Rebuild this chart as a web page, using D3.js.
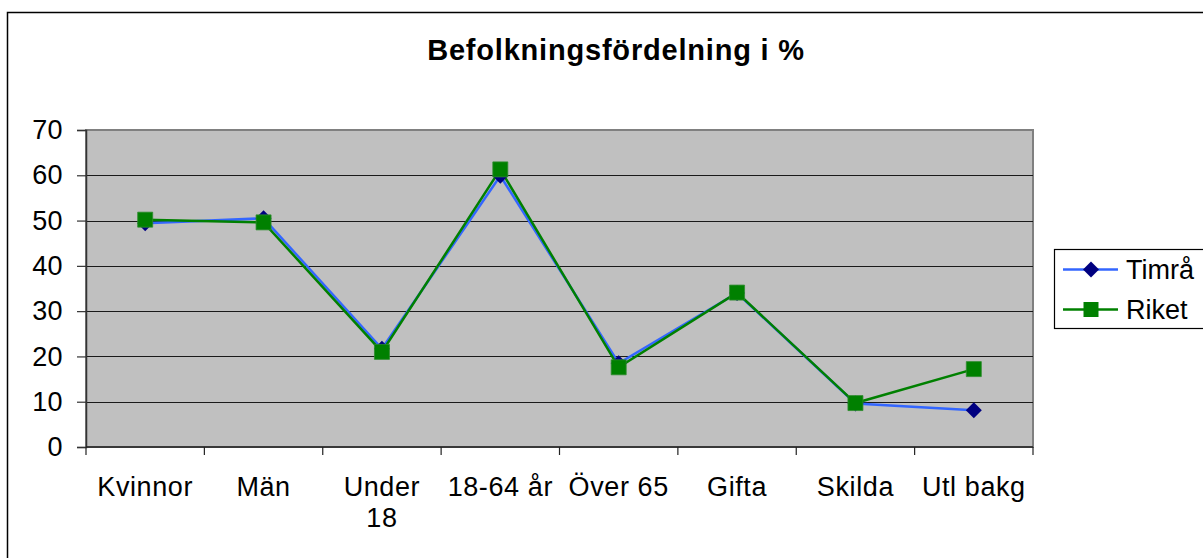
<!DOCTYPE html>
<html>
<head>
<meta charset="utf-8">
<script src="https://cdn.jsdelivr.net/npm/d3@7"></script>
<style>
  body { margin: 0; background: #fff; }
  text { font-family: "Liberation Sans", Arial, sans-serif; fill: #000; }
</style>
</head>
<body>
<svg id="chart" width="1203" height="558"></svg>
<script>
// data
var categories = ["Kvinnor", "Män", "Under 18", "18-64 år", "Över 65", "Gifta", "Skilda", "Utl bakg"];
var timra = [49.4, 50.5, 21.7, 59.9, 18.5, 34.0, 9.6, 8.1];
var riket = [50.2, 49.6, 21.0, 61.3, 17.6, 34.1, 9.7, 17.2];
var yTicks = [0, 10, 20, 30, 40, 50, 60, 70];
var seriesNames = ["Timrå", "Riket"];

var svg = d3.select("#chart");
var plot = {left: 86, right: 1033, top: 130, bottom: 447};

// outer chart frame (right/bottom edges run off the page)
svg.append("rect")
  .attr("x", 7.5).attr("y", 12.5)
  .attr("width", 1300).attr("height", 700)
  .attr("fill", "#fff").attr("stroke", "#000").attr("stroke-width", 1.5);

svg.append("text")
  .attr("x", 616).attr("y", 60)
  .attr("text-anchor", "middle")
  .style("font-size", "29px").style("font-weight", "bold")
  .style("letter-spacing", "0.8px")
  .text("Befolkningsfördelning i %");

var x = d3.scaleBand().domain(categories).range([plot.left, plot.right]);
var y = d3.scaleLinear().domain([0, 70]).range([plot.bottom, plot.top]);
var cx = function(d, i) { return x(categories[i]) + x.bandwidth() / 2; };

// plot background
svg.append("rect")
  .attr("x", plot.left).attr("y", plot.top)
  .attr("width", plot.right - plot.left).attr("height", plot.bottom - plot.top)
  .attr("fill", "#c0c0c0").attr("stroke", "#808080").attr("stroke-width", 2);

// gridlines
svg.append("g").selectAll("line")
  .data(yTicks.filter(function(d) { return d > 0 && d < 70; }))
  .enter().append("line")
  .attr("x1", plot.left).attr("x2", plot.right)
  .attr("y1", function(d) { return Math.round(y(d)) + 0.5; })
  .attr("y2", function(d) { return Math.round(y(d)) + 0.5; })
  .attr("stroke", "#1a1a1a").attr("stroke-width", 1.2);

// y axis
var yAxis = d3.axisLeft(y).tickValues(yTicks).tickSize(9).tickPadding(14);
var gy = svg.append("g").attr("transform", "translate(" + plot.left + ",0)").call(yAxis);
gy.select(".domain").attr("stroke", "#333").attr("stroke-width", 1.5);
gy.selectAll(".tick line").attr("stroke", "#333").attr("stroke-width", 1.2);
gy.selectAll("text").style("font-size", "27px").style("letter-spacing", "0.4px").attr("fill", "#000");

// x axis: ticks between categories
var gx = svg.append("g");
gx.append("line")
  .attr("x1", plot.left).attr("x2", plot.right)
  .attr("y1", plot.bottom).attr("y2", plot.bottom)
  .attr("stroke", "#222").attr("stroke-width", 1.5);
var boundaries = categories.map(function(c) { return x(c); }).concat([plot.right]);
gx.selectAll(".xt").data(boundaries).enter().append("line")
  .attr("class", "xt")
  .attr("x1", function(d) { return d; }).attr("x2", function(d) { return d; })
  .attr("y1", plot.bottom).attr("y2", plot.bottom + 8)
  .attr("stroke", "#222").attr("stroke-width", 1.2);

var labels = gx.selectAll(".xl").data(categories).enter().append("text")
  .attr("class", "xl")
  .attr("text-anchor", "middle")
  .attr("x", function(d, i) { return cx(d, i); })
  .attr("y", 496)
  .style("font-size", "27px").style("letter-spacing", "0.6px");
labels.each(function(d, i) {
  var t = d3.select(this);
  var parts = d === "Under 18" ? ["Under", "18"] : [d];
  parts.forEach(function(p, j) {
    t.append("tspan").attr("x", cx(d, i)).attr("dy", j === 0 ? 0 : 31).text(p);
  });
});

// lines
var line = d3.line().x(cx).y(function(d) { return y(d); });
svg.append("path").datum(timra)
  .attr("d", line).attr("fill", "none")
  .attr("stroke", "#3366ff").attr("stroke-width", 2.5);
svg.append("path").datum(riket)
  .attr("d", line).attr("fill", "none")
  .attr("stroke", "#008000").attr("stroke-width", 2.5);

// diamond = square turned 45 degrees
var diamond = d3.symbol().type(d3.symbolSquare).size(128);
var square = d3.symbol().type(d3.symbolSquare).size(225);

svg.append("g").selectAll("path").data(timra).enter().append("path")
  .attr("transform", function(d, i) { return "translate(" + cx(d, i) + "," + y(d) + ") rotate(45)"; })
  .attr("d", diamond)
  .attr("fill", "#000080");
svg.append("g").selectAll("path").data(riket).enter().append("path")
  .attr("transform", function(d, i) { return "translate(" + cx(d, i) + "," + y(d) + ")"; })
  .attr("d", square)
  .attr("fill", "#008000").attr("stroke", "#2e8b2e").attr("stroke-width", 0.8);

// legend
var legend = svg.append("g");
legend.append("rect")
  .attr("x", 1054.5).attr("y", 249.5)
  .attr("width", 200).attr("height", 79)
  .attr("fill", "#fff").attr("stroke", "#000").attr("stroke-width", 1.2);
var items = legend.selectAll(".li").data(seriesNames).enter().append("g")
  .attr("class", "li")
  .attr("transform", function(d, i) { return "translate(0," + (269.5 + i * 40) + ")"; });
items.append("line")
  .attr("x1", 1063).attr("x2", 1118)
  .attr("stroke", function(d, i) { return i === 0 ? "#3366ff" : "#008000"; })
  .attr("stroke-width", 2.5);
items.append("path")
  .attr("transform", function(d, i) { return "translate(1091,0)" + (i === 0 ? " rotate(45)" : ""); })
  .attr("d", function(d, i) { return i === 0 ? diamond() : square(); })
  .attr("fill", function(d, i) { return i === 0 ? "#000080" : "#008000"; });
items.append("text")
  .attr("x", 1126).attr("y", 9.5)
  .style("font-size", "27px")
  .text(function(d) { return d; });
</script>
</body>
</html>
